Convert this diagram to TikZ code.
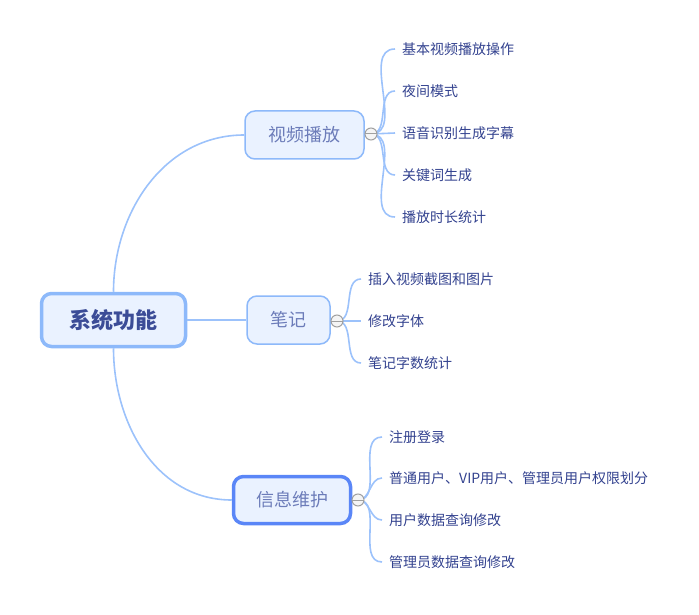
\documentclass[tikz,border=0pt]{standalone}
\usepackage{fontspec}
\setmainfont{Noto Sans CJK SC}
\definecolor{linkblue}{HTML}{9CC2FB}
\definecolor{boxfill}{HTML}{EAF2FF}
\definecolor{rootline}{HTML}{8DB9FA}
\definecolor{infoline}{HTML}{5A86F7}
\definecolor{leaftext}{HTML}{33428F}
\definecolor{subtext}{HTML}{6C7CB9}
\definecolor{roottext}{HTML}{3B4C97}
\definecolor{foldgray}{HTML}{A0A0A0}
\tikzset{
	topic/.style={rounded corners=10pt, fill=boxfill, draw=rootline, line width=1.5pt, minimum height=48pt, font=\fontsize{18}{18}\selectfont, text=subtext},
	leaf/.style={anchor=west, inner xsep=7pt, inner ysep=2pt, font=\fontsize{14}{14}\selectfont, text=leaftext},
	branch/.style={draw=linkblue, line width=1.6pt},
	fold/.style={circle, draw=foldgray, fill=gray!8, minimum size=12pt, inner sep=0pt, line width=1pt,
		path picture={\draw[foldgray, line width=1pt] (path picture bounding box.west) -- (path picture bounding box.east);}}
}
\begin{document}
	\begin{tikzpicture}[x=1pt, y=-1pt]
		\useasboundingbox (0,0) rectangle (699,615);
		\node[topic, draw=rootline, line width=3.5pt, minimum width=144pt, minimum height=53pt, text=roottext, font=\fontsize{22}{22}\selectfont\bfseries](root) at (113.5,320){系统功能};
		\node[topic, minimum width=119pt](video) at (304.5,135){视频播放};
		\node[topic, minimum width=83pt](note) at (288.5,320){笔记};
		\node[topic, draw=infoline, line width=3.5pt, minimum width=117pt, minimum height=47pt](info) at (292,500){信息维护};
		% leaves of 视频播放
		\node[leaf](va) at (395,49){基本视频播放操作};
		\node[leaf](vb) at (395,91){夜间模式};
		\node[leaf](vc) at (395,133){语音识别生成字幕};
		\node[leaf](vd) at (395,175){关键词生成};
		\node[leaf](ve) at (395,217){播放时长统计};
		% leaves of 笔记
		\node[leaf](na) at (361,279){插入视频截图和图片};
		\node[leaf](nb) at (361,321){修改字体};
		\node[leaf](nc) at (361,363){笔记字数统计};
		% leaves of 信息维护
		\node[leaf](ia) at (382,437){注册登录};
		\node[leaf](ib) at (382,478){普通用户、VIP用户、管理员用户权限划分};
		\node[leaf](ic) at (382,520){用户数据查询修改};
		\node[leaf](id) at (382,562){管理员数据查询修改};
		% root links
		\draw[branch] (root.north) to[out=90, in=180] (video.west);
		\draw[branch] (root.east) -- (note.west);
		\draw[branch] (root.south) to[out=-90, in=180] (info.west);
		% fold points
		\coordinate (vf) at (371,134);
		\coordinate (nf) at (337,321);
		\coordinate (if) at (358,500);
		\draw[branch] (vf) to[out=0, in=180] (va.west);
		\draw[branch] (vf) to[out=0, in=180] (vb.west);
		\draw[branch] (vf) -- (vc.west);
		\draw[branch] (vf) to[out=0, in=180] (vd.west);
		\draw[branch] (vf) to[out=0, in=180] (ve.west);
		\draw[branch] (nf) to[out=0, in=180] (na.west);
		\draw[branch] (nf) -- (nb.west);
		\draw[branch] (nf) to[out=0, in=180] (nc.west);
		\draw[branch] (if) to[out=0, in=180] (ia.west);
		\draw[branch] (if) to[out=0, in=180] (ib.west);
		\draw[branch] (if) to[out=0, in=180] (ic.west);
		\draw[branch] (if) to[out=0, in=180] (id.west);
		\node[fold](vfold) at (vf){};
		\node[fold](nfold) at (nf){};
		\node[fold](ifold) at (if){};
	\end{tikzpicture}
\end{document}
